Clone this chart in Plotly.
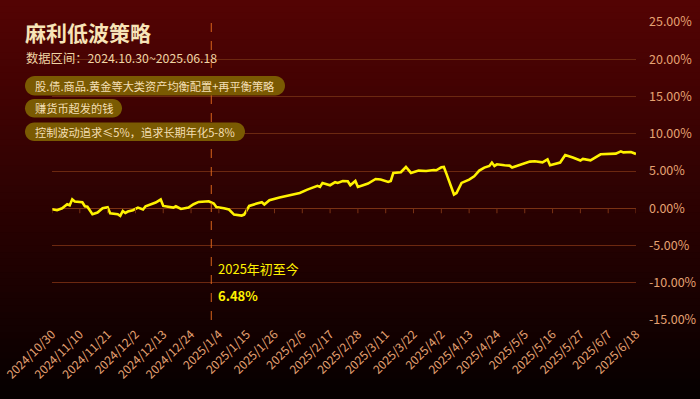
import plotly.graph_objects as go
import pandas as pd

# ---------------- data ----------------
dates = [
    "2024-10-30", "2024-11-01", "2024-11-03", "2024-11-05", "2024-11-06", "2024-11-07",
    "2024-11-08", "2024-11-09", "2024-11-11", "2024-11-12", "2024-11-13", "2024-11-15",
    "2024-11-17", "2024-11-19", "2024-11-21", "2024-11-22", "2024-11-25", "2024-11-26",
    "2024-11-27", "2024-11-28", "2024-11-29", "2024-12-01", "2024-12-03", "2024-12-05",
    "2024-12-06", "2024-12-10", "2024-12-12", "2024-12-13", "2024-12-16", "2024-12-17",
    "2024-12-18", "2024-12-20", "2024-12-23", "2024-12-25", "2024-12-27", "2024-12-30",
    "2024-12-31", "2025-01-02", "2025-01-03", "2025-01-06", "2025-01-08", "2025-01-10",
    "2025-01-13", "2025-01-14", "2025-01-16", "2025-01-19", "2025-01-21", "2025-01-22",
    "2025-01-24", "2025-01-28", "2025-02-01", "2025-02-05", "2025-02-08", "2025-02-11",
    "2025-02-12", "2025-02-13", "2025-02-14", "2025-02-17", "2025-02-19", "2025-02-20",
    "2025-02-21", "2025-02-22", "2025-02-24", "2025-02-25", "2025-02-27", "2025-02-28",
    "2025-03-02", "2025-03-04", "2025-03-07", "2025-03-09", "2025-03-12", "2025-03-13",
    "2025-03-14", "2025-03-17", "2025-03-19", "2025-03-21", "2025-03-24", "2025-03-27",
    "2025-03-30", "2025-03-31", "2025-04-02", "2025-04-03", "2025-04-04", "2025-04-07",
    "2025-04-08", "2025-04-10", "2025-04-13", "2025-04-15", "2025-04-17", "2025-04-19",
    "2025-04-21", "2025-04-22", "2025-04-23", "2025-04-24", "2025-04-27", "2025-04-29",
    "2025-04-30", "2025-05-03", "2025-05-07", "2025-05-09", "2025-05-12", "2025-05-14",
    "2025-05-15", "2025-05-19", "2025-05-21", "2025-05-24", "2025-05-27", "2025-05-28",
    "2025-05-31", "2025-06-04", "2025-06-10", "2025-06-12", "2025-06-13", "2025-06-16",
    "2025-06-18",
]
returns_pct = [
    -0.13, -0.27, 0.00, 0.54, 0.40, 1.20,
    0.90, 0.85, 0.80, 0.27, 0.20, -0.80,
    -0.58, 0.00, 0.13, -0.67, -0.80, -1.03,
    -0.36, -0.63, -0.44, -0.27, 0.09, -0.17,
    0.27, 0.76, 1.17, 0.31, 0.17, 0.09,
    0.27, -0.09, 0.09, 0.54, 0.85, 0.98,
    0.94, 0.63, 0.17, 0.00, -0.17, -0.85,
    -0.98, -0.85, 0.31, 0.63, 0.80, 0.50,
    1.07, 1.43, 1.70, 2.05, 2.50, 2.86,
    3.00, 2.86, 3.40, 3.09, 3.49, 3.40,
    3.58, 3.66, 3.62, 3.09, 3.66, 2.86,
    3.09, 3.31, 3.93, 3.85, 3.53, 3.66,
    4.74, 4.83, 5.54, 4.74, 5.05, 5.00,
    5.14, 5.10, 5.50, 5.54, 4.65, 1.84,
    2.05, 3.40, 3.85, 4.29, 5.05, 5.46,
    5.68, 6.13, 5.68, 5.90, 5.77, 5.72,
    5.46, 5.77, 6.26, 6.30, 6.17, 6.57,
    5.77, 6.13, 7.15, 6.80, 6.40, 6.62,
    6.44, 7.24, 7.33, 7.64, 7.50, 7.55,
    7.28,
]
x_tick_labels = [
    "2024/10/30", "2024/11/10", "2024/11/21", "2024/12/2", "2024/12/13", "2024/12/24",
    "2025/1/4", "2025/1/15", "2025/1/26", "2025/2/6", "2025/2/17", "2025/2/28",
    "2025/3/11", "2025/3/22", "2025/4/2", "2025/4/13", "2025/4/24", "2025/5/5",
    "2025/5/16", "2025/5/27", "2025/6/7", "2025/6/18",
]
y_ticks = [-15, -10, -5, 0, 5, 10, 15, 20, 25]
title_text = "麻利低波策略"
subtitle_text = "数据区间：2024.10.30~2025.06.18"
tags = [
    "股.债.商品.黄金等大类资产均衡配置+再平衡策略",
    "赚货币超发的钱",
    "控制波动追求≤5%，追求长期年化5-8%",
]
ytd_label = "2025年初至今"
ytd_value = "6.48%"
ytd_start = "2025-01-01"

# ---------------- geometry ----------------
W, H = 700, 399
ML, MR, MT, MB = 52, 64, 22, 79
PW, PH = W - ML - MR, H - MT - MB


def px(x):
    return (x - ML) / PW


def py(y):
    return 1 - (y - MT) / PH


tick_dates = [pd.to_datetime(t, format="%Y/%m/%d") for t in x_tick_labels]

GRID = "#6c2810"
LABEL = "#e6a272"
YELLOW = "#fff200"
FONT = "Noto Sans CJK SC"

fig = go.Figure()
fig.add_trace(go.Scatter(
    x=pd.to_datetime(dates), y=returns_pct, mode="lines",
    line=dict(color=YELLOW, width=2.6), hoverinfo="skip", showlegend=False,
))

shapes = []
# background gradient
N = 60
top = (84, 3, 3)
bot = (5, 0, 0)
for i in range(N):
    t = (i + 0.5) / N
    c = tuple(int(round(top[k] + (bot[k] - top[k]) * t)) for k in range(3))
    y0 = H * i / N - 0.5
    y1 = H * (i + 1) / N + 0.8
    shapes.append(dict(type="rect", xref="paper", yref="paper", layer="below",
                       x0=px(-2), x1=px(W + 2), y0=py(y1), y1=py(y0),
                       fillcolor="rgb(%d,%d,%d)" % c, line=dict(width=0)))

# tick marks on the zero line
for d in tick_dates:
    shapes.append(dict(type="line", xref="x", yref="y", x0=d, x1=d,
                       ysizemode="pixel", yanchor=0, y0=0, y1=-5,
                       line=dict(color="#7a3214", width=1)))

# year-start dashed line
shapes.append(dict(type="line", xref="x", yref="paper", x0=ytd_start, x1=ytd_start,
                   y0=0, y1=1, line=dict(color="#d8641c", width=1, dash="dash")))


def pill(x0, x1, ytop, ybot, color):
    r = (ybot - ytop) / 2.0
    k = 0.5523 * r
    a, b = -ytop, -ybot  # pixel y up-positive
    xl, xr = x0 + r, x1 - r
    path = (f"M{xl},{a} L{xr},{a} "
            f"C{xr + k},{a} {x1},{a - r + k} {x1},{a - r} "
            f"C{x1},{a - r - k} {xr + k},{b} {xr},{b} "
            f"L{xl},{b} "
            f"C{xl - k},{b} {x0},{b + r - k} {x0},{b + r} "
            f"C{x0},{b + r + k} {xl - k},{a} {xl},{a} Z")
    return dict(type="path", xref="paper", yref="paper",
                xsizemode="pixel", ysizemode="pixel",
                xanchor=px(0), yanchor=py(0), path=path,
                fillcolor=color, line=dict(width=0), layer="above")


pill_boxes = [(25, 285, 76, 95.5), (25, 122, 99, 117.5), (25, 245, 122.5, 141)]
PILL = "#7a5a02"
for (x0, x1, yt, yb) in pill_boxes:
    shapes.append(pill(x0, x1, yt, yb, PILL))

annotations = [
    dict(text=f"<b>{title_text}</b>", x=px(23), y=py(32), xref="paper", yref="paper",
         xanchor="left", yanchor="middle", showarrow=False,
         font=dict(size=21, color="#f7e4b8", family=FONT)),
    dict(text=subtitle_text, x=px(24), y=py(58.5), xref="paper", yref="paper",
         xanchor="left", yanchor="middle", showarrow=False,
         font=dict(size=12.3, color="#f0d4a4", family=FONT)),
]
for txt, (x0, x1, yt, yb) in zip(tags, pill_boxes):
    annotations.append(dict(text=txt, x=px(x0 + 8), y=py((yt + yb) / 2), xref="paper",
                            yref="paper", xanchor="left", yanchor="middle",
                            showarrow=False,
                            font=dict(size=11.2, color="#f4dfb4", family=FONT)))

annotations += [
    dict(text=ytd_label, x=ytd_start, y=py(268), xref="x", yref="paper", xshift=5,
         xanchor="left", yanchor="middle", showarrow=False,
         font=dict(size=13, color=YELLOW, family=FONT)),
    dict(text=f"<b>{ytd_value}</b>", x=ytd_start, y=py(295), xref="x", yref="paper",
         xshift=5, xanchor="left", yanchor="middle", showarrow=False,
         font=dict(size=13, color=YELLOW, family=FONT)),
]

fig.update_layout(
    width=W, height=H,
    margin=dict(l=ML, r=MR, t=MT, b=MB, pad=0, autoexpand=False),
    paper_bgcolor="rgb(40,1,1)",
    plot_bgcolor="rgba(0,0,0,0)",
    font=dict(family=FONT, color=LABEL),
    shapes=shapes,
    annotations=annotations,
    showlegend=False,
    hovermode=False,
    xaxis=dict(
        type="date", automargin=False,
        range=[pd.to_datetime(dates[0]), pd.to_datetime(dates[-1])],
        tickmode="array", tickvals=tick_dates, ticktext=x_tick_labels,
        tickangle=-45, showgrid=False, zeroline=False, showline=False,
        ticks="", tickfont=dict(size=12, color=LABEL, family=FONT),
        ticklabelstandoff=4,
    ),
    yaxis=dict(
        side="right", range=[-15, 25], tickmode="array", tickvals=y_ticks,
        automargin=False,
        ticktext=[f"{v:.2f}%" for v in y_ticks],
        showgrid=True, gridcolor=GRID, gridwidth=1,
        zeroline=True, zerolinecolor="#7a3214", zerolinewidth=1,
        showline=False, ticks="",
        tickfont=dict(size=12.5, color=LABEL, family=FONT),
        ticklabelstandoff=12,
    ),
)

fig.write_html("out.html",
               config={"displayModeBar": False, "staticPlot": True},
               post_script="document.body.style.margin='0px';"
                           "document.body.style.background='#000';")
